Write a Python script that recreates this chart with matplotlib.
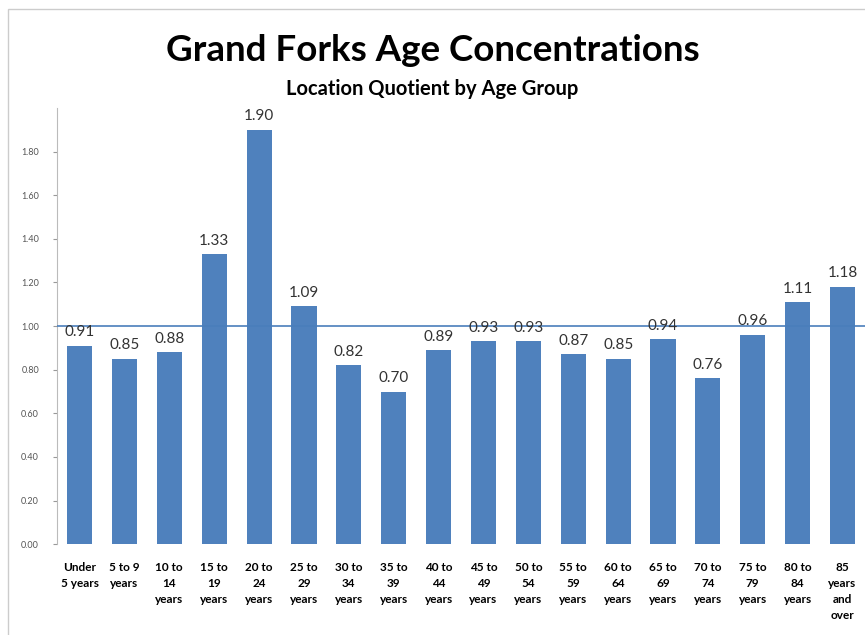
import matplotlib.pyplot as plt
import numpy as np
from matplotlib.patches import Rectangle

plt.rcParams['font.family'] = ['Lato', 'DejaVu Sans']

age_groups = ["Under\n5 years", "5 to 9\nyears", "10 to\n14\nyears", "15 to\n19\nyears",
              "20 to\n24\nyears", "25 to\n29\nyears", "30 to\n34\nyears", "35 to\n39\nyears",
              "40 to\n44\nyears", "45 to\n49\nyears", "50 to\n54\nyears", "55 to\n59\nyears",
              "60 to\n64\nyears", "65 to\n69\nyears", "70 to\n74\nyears", "75 to\n79\nyears",
              "80 to\n84\nyears", "85\nyears\nand\nover"]
lq = [0.91, 0.85, 0.88, 1.33, 1.90, 1.09, 0.82, 0.70, 0.89,
      0.93, 0.93, 0.87, 0.85, 0.94, 0.76, 0.96, 1.11, 1.18]
yticks = np.arange(0, 1.81, 0.2)
baseline = 1.0

bar_col = '#4f81bd'

fig = plt.figure(figsize=(8.65, 6.35), dpi=100)
ax = fig.add_axes([0.066, 0.143, 0.934, 0.687])

x = np.arange(len(lq))
ax.bar(x, lq, width=0.56, color=bar_col, zorder=2)
ax.axhline(baseline, color='#4a7ebb', lw=1.2, zorder=3)

for i, v in enumerate(lq):
    ax.text(i, v + 0.03, "%.2f" % v, ha='center', va='bottom', fontsize=11, color='#333333')

ax.set_xlim(-0.5, len(lq) - 0.5)
ax.set_ylim(0, 2.0)
ax.set_yticks(yticks)
ax.set_yticklabels(["%.2f" % t for t in yticks], fontsize=6.5, color='#555555')
ax.set_xticks(x)
ax.set_xticklabels(age_groups, fontsize=8.5, fontweight='bold', va='top', linespacing=1.55)
ax.tick_params(axis='x', length=0, pad=13)
ax.tick_params(axis='y', length=3, color='#999999', pad=10)

for s in ['top', 'right', 'bottom']:
    ax.spines[s].set_visible(False)
ax.spines['left'].set_color('#bbbbbb')

fig.text(0.5, 0.92, "Grand Forks Age Concentrations", ha='center', va='center',
         fontsize=26.5, fontweight='bold')
fig.text(0.5, 0.86, "Location Quotient by Age Group", ha='center', va='center',
         fontsize=14.5, fontweight='bold')

# thin frame round the chart area
fig.patches.append(Rectangle((8 / 865, -0.1), 1.2, 1.1 - 9 / 635, transform=fig.transFigure,
                             fill=False, edgecolor='#cccccc', lw=1))

fig.savefig('out.png', dpi=100)
